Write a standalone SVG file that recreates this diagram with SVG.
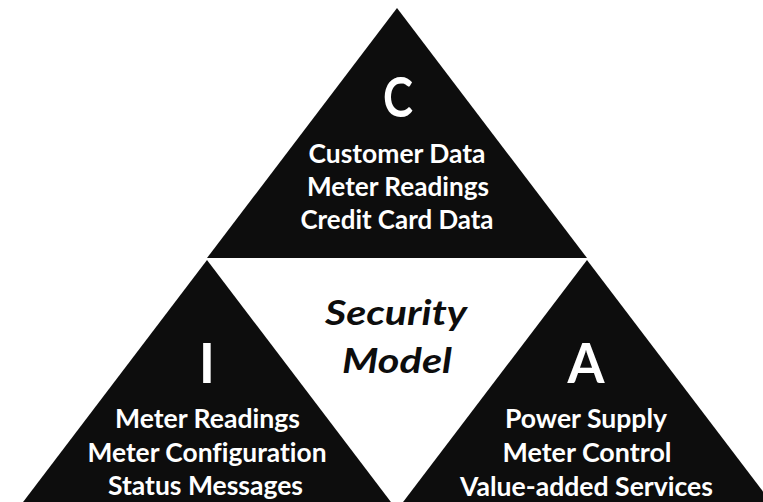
<svg xmlns="http://www.w3.org/2000/svg" width="763" height="502" viewBox="0 0 763 502">
<style>
.tri{fill:#0d0d0d}
text{font-variant-ligatures:none;font-feature-settings:"liga" 0,"clig" 0,"dlig" 0}
.big{font-family:Lato,"Open Sans","Liberation Sans",sans-serif;font-weight:bold;font-size:55px;fill:#ffffff;text-anchor:middle}
.body{font-family:Lato,"Open Sans","Liberation Sans",sans-serif;font-weight:bold;font-size:27px;fill:#ffffff;text-anchor:middle}
.center{font-family:Lato,"Open Sans","Liberation Sans",sans-serif;font-weight:bold;font-style:italic;font-size:35px;fill:#0d0d0d;text-anchor:middle}
</style>
<rect width="763" height="502" fill="#ffffff"/>
<g id="confidentiality">
<polygon class="tri" points="397,8 207,258 587,258"/>
<text class="big" x="398" y="117" textLength="30" lengthAdjust="spacingAndGlyphs">C</text>
<text class="body" x="397" y="163" textLength="177" lengthAdjust="spacingAndGlyphs">Customer Data</text>
<text class="body" x="398" y="196" textLength="182" lengthAdjust="spacingAndGlyphs">Meter Readings</text>
<text class="body" x="397" y="229" textLength="193" lengthAdjust="spacingAndGlyphs">Credit Card Data</text>
</g>
<g id="integrity">
<polygon class="tri" points="207,260 17,510 397,510"/>
<text class="big" x="207" y="383">I</text>
<text class="body" x="207.5" y="428" textLength="185" lengthAdjust="spacingAndGlyphs">Meter Readings</text>
<text class="body" x="207" y="462" textLength="239" lengthAdjust="spacingAndGlyphs">Meter Configuration</text>
<text class="body" x="205.5" y="495" textLength="195" lengthAdjust="spacingAndGlyphs">Status Messages</text>
</g>
<g id="availability">
<polygon class="tri" points="587,260 397,510 777,510"/>
<text class="big" x="586" y="383" textLength="37" lengthAdjust="spacingAndGlyphs">A</text>
<text class="body" x="586" y="428" textLength="162" lengthAdjust="spacingAndGlyphs">Power Supply</text>
<text class="body" x="587" y="462" textLength="169" lengthAdjust="spacingAndGlyphs">Meter Control</text>
<text class="body" x="586.5" y="496" textLength="253" lengthAdjust="spacingAndGlyphs">Value-added Services</text>
</g>
<g id="security-model">
<text class="center" x="396" y="325" textLength="142" lengthAdjust="spacingAndGlyphs">Security</text>
<text class="center" x="397" y="373" textLength="110" lengthAdjust="spacingAndGlyphs">Model</text>
</g>
</svg>
